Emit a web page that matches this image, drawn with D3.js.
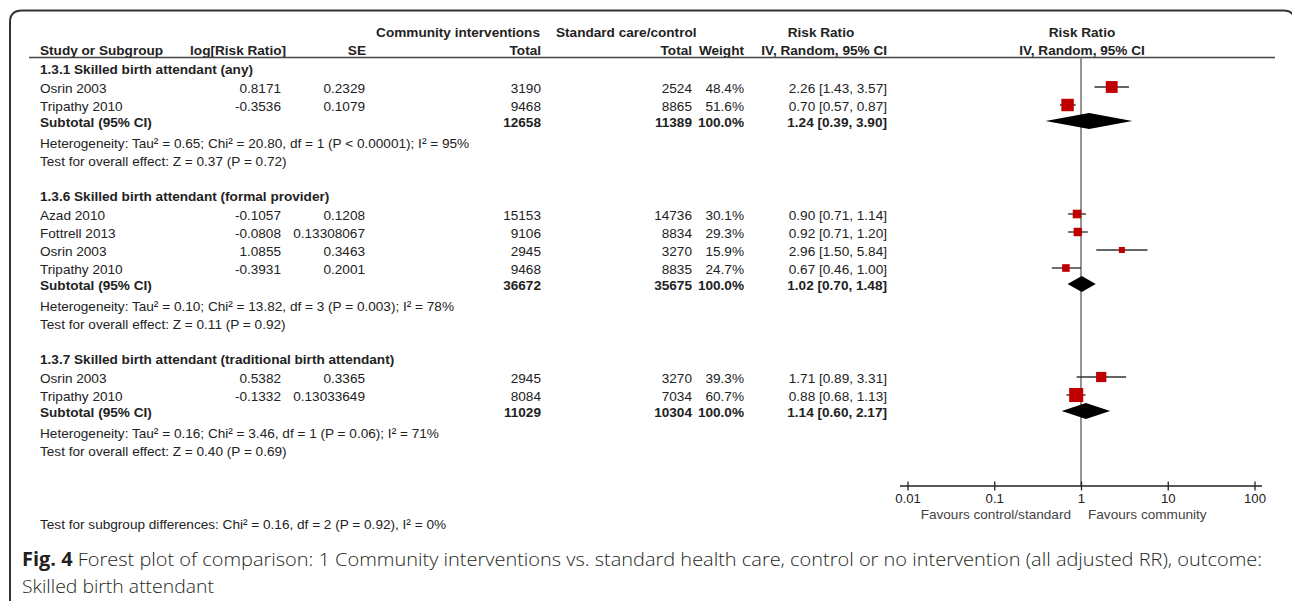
<!DOCTYPE html>
<html>
<head>
<meta charset="utf-8">
<script src="https://cdn.jsdelivr.net/npm/d3@7"></script>
<style>
  html, body { margin: 0; padding: 0; background: #fff; }
  svg { display: block; }
  text { font-family: "Liberation Sans", Arial, sans-serif; font-size: 13.6px; fill: #222; }
  .b { font-weight: bold; }
  .cap { font-family: "Open Sans", sans-serif; font-size: 19px; font-weight: 300; fill: #231f20; }
</style>
</head>
<body>
<svg id="chart" width="1292" height="601"></svg>
<script>
// ---- Subgroups -------------------------------------------------------------
const subgroupTitles = [
  "1.3.1 Skilled birth attendant (any)",
  "1.3.6 Skilled birth attendant (formal provider)",
  "1.3.7 Skilled birth attendant (traditional birth attendant)"
];
const subtotalCommunity = [12658, 36672, 11029];
const subtotalControl   = [11389, 35675, 10304];
const subtotalRR   = [1.24, 1.02, 1.14];
const subtotalLow  = [0.39, 0.70, 0.60];
const subtotalHigh = [3.90, 1.48, 2.17];
const heterogeneityText = [
  "Heterogeneity: Tau² = 0.65; Chi² = 20.80, df = 1 (P < 0.00001); I² = 95%",
  "Heterogeneity: Tau² = 0.10; Chi² = 13.82, df = 3 (P = 0.003); I² = 78%",
  "Heterogeneity: Tau² = 0.16; Chi² = 3.46, df = 1 (P = 0.06); I² = 71%"
];
const overallEffectText = [
  "Test for overall effect: Z = 0.37 (P = 0.72)",
  "Test for overall effect: Z = 0.11 (P = 0.92)",
  "Test for overall effect: Z = 0.40 (P = 0.69)"
];

// ---- Studies ---------------------------------------------------------------
const studyGroup = [0, 0, 1, 1, 1, 1, 2, 2];
const studyNames = ["Osrin 2003", "Tripathy 2010", "Azad 2010", "Fottrell 2013",
                    "Osrin 2003", "Tripathy 2010", "Osrin 2003", "Tripathy 2010"];
const logRiskRatio = ["0.8171", "-0.3536", "-0.1057", "-0.0808", "1.0855", "-0.3931", "0.5382", "-0.1332"];
const standardError = ["0.2329", "0.1079", "0.1208", "0.13308067", "0.3463", "0.2001", "0.3365", "0.13033649"];
const totalCommunity = [3190, 9468, 15153, 9106, 2945, 9468, 2945, 8084];
const totalControl   = [2524, 8865, 14736, 8834, 3270, 8835, 3270, 7034];
const weightPct = [48.4, 51.6, 30.1, 29.3, 15.9, 24.7, 39.3, 60.7];
const riskRatio = [2.26, 0.70, 0.90, 0.92, 2.96, 0.67, 1.71, 0.88];
const ciLow     = [1.43, 0.57, 0.71, 0.71, 1.50, 0.46, 0.89, 0.68];
const ciHigh    = [3.57, 0.87, 1.14, 1.20, 5.84, 1.00, 3.31, 1.13];

// ---- Axis and labels -------------------------------------------------------
const axisTicks = [0.01, 0.1, 1, 10, 100];
const axisTickLabels = ["0.01", "0.1", "1", "10", "100"];
const favoursLeft = "Favours control/standard";
const favoursRight = "Favours community";
const subgroupDiffText = "Test for subgroup differences: Chi² = 0.16, df = 2 (P = 0.92), I² = 0%";
const captionBold = "Fig. 4";
const captionLine1 = " Forest plot of comparison: 1 Community interventions vs. standard health care, control or no intervention (all adjusted RR), outcome:";
const captionLine2 = "Skilled birth attendant";

// ---- Layout ----------------------------------------------------------------
const svg = d3.select("#chart");
const fmtCI = (m, l, h) => `${m.toFixed(2)} [${l.toFixed(2)}, ${h.toFixed(2)}]`;
const RED = "#c00000";

const col = {
  name: 40, logRR: 281, se: 365, totA: 541, totB: 692, weight: 744, ci: 887
};

const x = d3.scaleLog().domain([0.01, 100]).range([907.5, 1254.5]);
const markerSide = d3.scaleLinear().domain([0, 100]).range([3.2, 21.1]);
const axisY = 486;
const headerLineY = 57.5;

// frame with rounded top corners
svg.append("path")
  .attr("d", "M10,605 V22 Q10,10.5 22,10.5 H1283 Q1295,10.5 1295,22 V605")
  .attr("fill", "none").attr("stroke", "#333").attr("stroke-width", 2);

function txt(xp, yp, s, anchor, bold, cls) {
  return svg.append("text")
    .attr("x", xp).attr("y", yp).attr("dy", "0.36em")
    .attr("text-anchor", anchor || "start")
    .attr("class", (bold ? "b " : "") + (cls || ""))
    .text(s);
}

// column headers
txt(540, 32.5, "Community interventions", "end", true);
txt(556, 32.5, "Standard care/control", "start", true);
txt(821, 32.5, "Risk Ratio", "middle", true);
txt(x(1) + 1, 32.5, "Risk Ratio", "middle", true);
txt(col.name, 50.5, "Study or Subgroup", "start", true);
txt(286, 50.5, "log[Risk Ratio]", "end", true);
txt(366, 50.5, "SE", "end", true);
txt(col.totA, 50.5, "Total", "end", true);
txt(col.totB, 50.5, "Total", "end", true);
txt(col.weight, 50.5, "Weight", "end", true);
txt(col.ci, 50.5, "IV, Random, 95% CI", "end", true);
txt(x(1) + 1, 50.5, "IV, Random, 95% CI", "middle", true);

svg.append("line")
  .attr("x1", 29).attr("x2", 1275).attr("y1", headerLineY).attr("y2", headerLineY)
  .attr("stroke", "#444").attr("stroke-width", 1.5);

// line of no effect
svg.append("line")
  .attr("x1", x(1)).attr("x2", x(1)).attr("y1", headerLineY).attr("y2", axisY)
  .attr("stroke", "#7a7a7a").attr("stroke-width", 1.6);

// rows
let y = 69.5;
const plot = svg.append("g");
subgroupTitles.forEach((title, g) => {
  txt(col.name, y, title, "start", true);
  y += 18.5;
  const idx = d3.range(studyGroup.length).filter(i => studyGroup[i] === g);
  idx.forEach((i, k) => {
    if (k > 0) y += 18;
    txt(col.name, y, studyNames[i]);
    txt(col.logRR, y, logRiskRatio[i], "end");
    txt(col.se, y, standardError[i], "end");
    txt(col.totA, y, totalCommunity[i], "end");
    txt(col.totB, y, totalControl[i], "end");
    txt(col.weight, y, weightPct[i].toFixed(1) + "%", "end");
    txt(col.ci, y, fmtCI(riskRatio[i], ciLow[i], ciHigh[i]), "end");

    const my = y - 1;
    plot.append("line")
      .attr("x1", x(ciLow[i])).attr("x2", x(ciHigh[i]))
      .attr("y1", my).attr("y2", my)
      .attr("stroke", "#333").attr("stroke-width", 1.4);
    const s = markerSide(weightPct[i]);
    plot.append("rect")
      .attr("x", x(riskRatio[i]) - s / 2).attr("y", my - s / 2)
      .attr("width", s).attr("height", s)
      .attr("fill", RED);
  });
  y += 16;
  txt(col.name, y, "Subtotal (95% CI)", "start", true);
  txt(col.totA, y, subtotalCommunity[g], "end", true);
  txt(col.totB, y, subtotalControl[g], "end", true);
  txt(col.weight, y, "100.0%", "end", true);
  txt(col.ci, y, fmtCI(subtotalRR[g], subtotalLow[g], subtotalHigh[g]), "end", true);
  const dy = y - 1;
  plot.append("polygon")
    .attr("points", [
      [x(subtotalLow[g]), dy], [x(subtotalRR[g]), dy - 8],
      [x(subtotalHigh[g]), dy], [x(subtotalRR[g]), dy + 8]
    ].map(p => p.join(",")).join(" "))
    .attr("fill", "#000");
  y += 21.5;
  txt(col.name, y, heterogeneityText[g]);
  y += 18;
  txt(col.name, y, overallEffectText[g]);
  y += 35;
});

// axis
const axis = d3.axisBottom(x)
  .tickValues(axisTicks)
  .tickFormat((d, i) => axisTickLabels[i])
  .tickSize(4.5)
  .tickPadding(3.5);
const ag = svg.append("g").attr("transform", `translate(0,${axisY})`).call(axis);
ag.select(".domain").remove();
ag.attr("font-family", null).attr("font-size", null);
ag.selectAll(".tick line").attr("y1", -4.5).attr("y2", 4.5).attr("stroke", "#222").attr("stroke-width", 1.3);
ag.selectAll(".tick text").style("font-size", "13.2px").attr("fill", "#222");
ag.append("line").attr("x1", 900).attr("x2", 1262).attr("y1", 0).attr("y2", 0)
  .attr("stroke", "#222").attr("stroke-width", 1.5);

txt(x(1) - 10, 514, favoursLeft, "end").style("fill", "#444");
txt(x(1) + 7, 514, favoursRight, "start").style("fill", "#444");

txt(col.name, 524, subgroupDiffText);

// caption
const c1 = svg.append("text").attr("class", "cap").attr("x", 22).attr("y", 566)
  .attr("textLength", 1240).attr("lengthAdjust", "spacingAndGlyphs");
c1.append("tspan").style("font-weight", "bold").text(captionBold);
c1.append("tspan").text(captionLine1);
svg.append("text").attr("class", "cap").attr("x", 22).attr("y", 593)
  .attr("textLength", 192).attr("lengthAdjust", "spacingAndGlyphs")
  .text(captionLine2);
</script>
</body>
</html>
